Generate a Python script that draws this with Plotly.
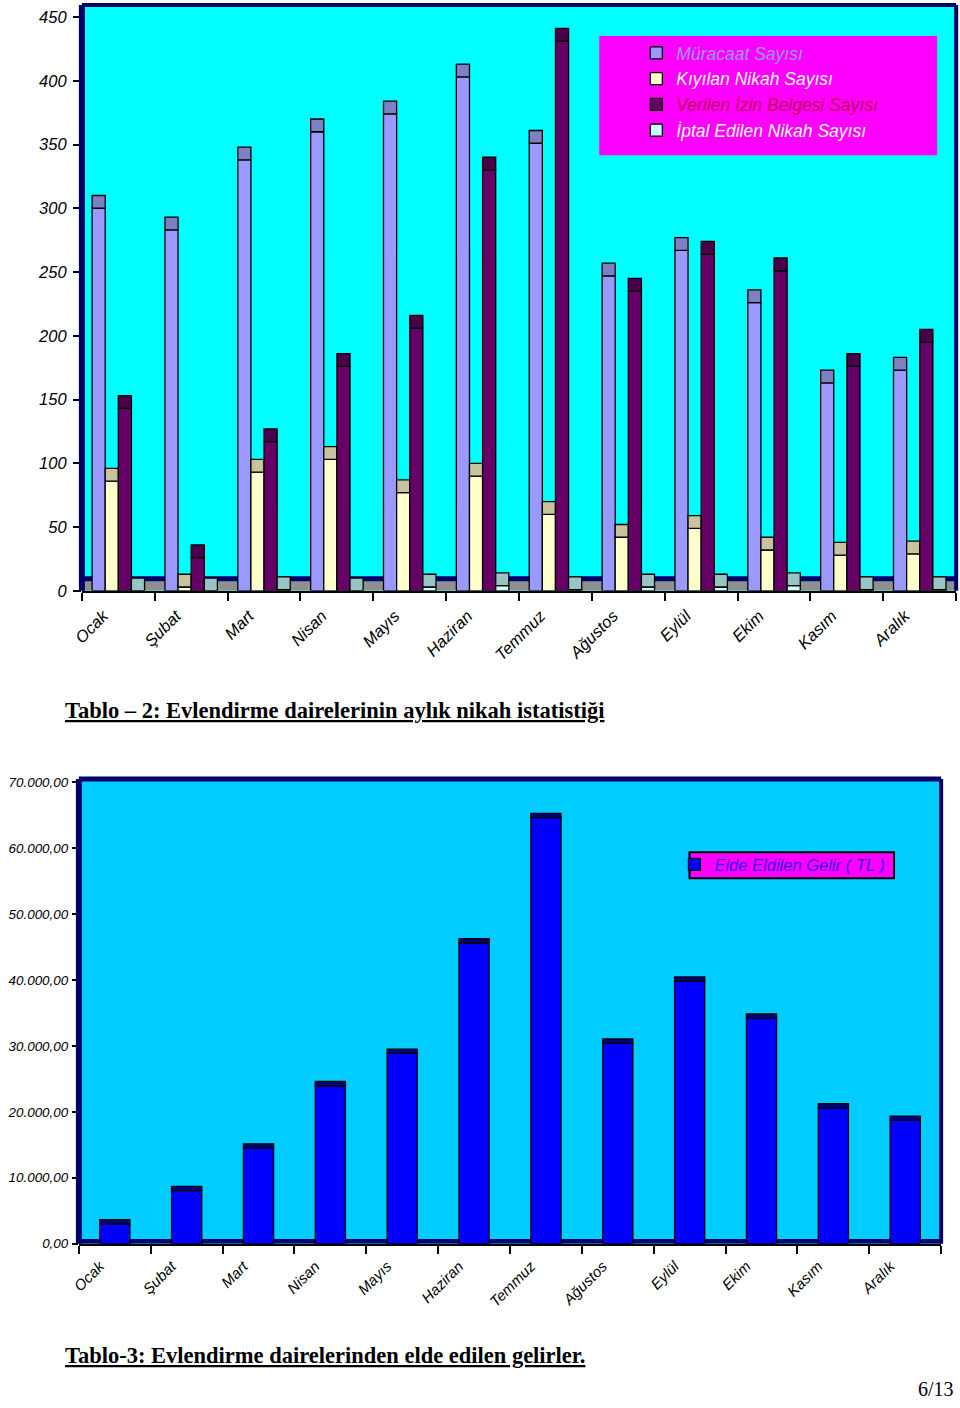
import plotly.graph_objects as go

# ---------------- data ----------------
months = ["Ocak", "Şubat", "Mart", "Nisan", "Mayıs", "Haziran",
          "Temmuz", "Ağustos", "Eylül", "Ekim", "Kasım", "Aralık"]

muracaat = [300, 283, 338, 360, 374, 403, 351, 247, 267, 226, 163, 173]
kiyilan = [86, 3, 93, 103, 77, 90, 60, 42, 49, 32, 28, 29]
verilen = [143, 26, 117, 176, 206, 330, 431, 235, 264, 251, 176, 195]
iptal = [0, 0, 1, 0, 3, 4, 1, 3, 3, 4, 1, 1]

gelir = [3000, 8050, 14500, 23950, 28850, 45600, 64600, 30400, 39800, 34200, 20600, 18700]

top_ticks = [0, 50, 100, 150, 200, 250, 300, 350, 400, 450]
top_grid = [50, 100, 150, 200, 250, 300, 350, 400]
bottom_ticks = [0, 10000, 20000, 30000, 40000, 50000, 60000, 70000]
bottom_grid = [10000, 20000, 30000, 40000, 50000, 60000, 70000]
bottom_ticktext = ["0,00", "10.000,00", "20.000,00", "30.000,00", "40.000,00",
                   "50.000,00", "60.000,00", "70.000,00"]

series_names = ["Müracaat Sayısı", "Kıyılan Nikah Sayısı",
                "Verilen İzin Belgesi Sayısı", "İptal Edilen Nikah Sayısı"]
legend_text_colors = ["#9999FF", "#FFFFFF", "#C0005A", "#FFFFFF"]
face_colors = ["#9999FF", "#FFFFCC", "#660066", "#CCFFFF"]
cap_colors = ["#7F7FC4", "#C8C39E", "#4A004A", "#99C4C4"]
series_values = [muracaat, kiyilan, verilen, iptal]

W, H = 960, 1408
# measured mapping figure px -> photo px (photo = O + S * fig)
SX, OX = 0.987, 11.3
SY, OY = 0.9894, 5.0


def fx(rx):
    return ((rx - OX) / SX) / W


def fy(ry):
    return 1 - ((ry - OY) / SY) / H


FONT = "Arial, 'Liberation Sans', sans-serif"
SERIF = "'Times New Roman', 'Liberation Serif', serif"
NAVY = "#000066"

TOP_CAP = 10
BOT_CAP = 650

fig = go.Figure()

for i, (name, vals) in enumerate(zip(series_names, series_values)):
    fig.add_trace(go.Bar(
        x=months, y=vals, name=f'<span style="color:{legend_text_colors[i]}">{name}</span>',
        marker=dict(color=face_colors[i], line=dict(color="black", width=1.3)),
        offsetgroup=str(i), xaxis="x", yaxis="y", legend="legend",
        hoverinfo="skip",
    ))
    fig.add_trace(go.Bar(
        x=months, y=[TOP_CAP] * len(vals), base=vals,
        marker=dict(color=cap_colors[i], line=dict(color="black", width=1.3)),
        offsetgroup=str(i), xaxis="x", yaxis="y", showlegend=False,
        hoverinfo="skip",
    ))

fig.add_trace(go.Bar(
    x=months, y=gelir, name='<span style="color:#3311EE">Elde Eldilen Gelir ( TL )</span>',
    marker=dict(color="#0000FF", line=dict(color="black", width=1.3)),
    width=0.42, offset=-0.21, xaxis="x2", yaxis="y2", legend="legend2",
    hoverinfo="skip",
))
fig.add_trace(go.Bar(
    x=months, y=[BOT_CAP] * len(gelir), base=gelir,
    marker=dict(color="#000080", line=dict(color="black", width=1.3)),
    width=0.42, offset=-0.21, xaxis="x2", yaxis="y2", showlegend=False,
    hoverinfo="skip",
))

top_x = [fx(83), fx(955)]
top_y = [fy(591), fy(6)]
top_range = [0, 459.4]

bot_x = [fx(80), fx(940)]
bot_y = [fy(1243), fy(779)]
bot_range = [0, 70455]

tickfont_top = dict(family=FONT, size=16.5, color="black", style="italic")
tickfont_bot_x = dict(family=FONT, size=15, color="black", style="italic")
tickfont_bot_y = dict(family=FONT, size=13.4, color="black", style="italic")

fig.update_layout(
    width=W, height=H,
    margin=dict(l=0, r=0, t=0, b=0),
    paper_bgcolor="white",
    plot_bgcolor="#00FFFF",
    barmode="group", bargap=0.28, bargroupgap=0,
    font=dict(family=FONT),
    xaxis=dict(domain=top_x, anchor="y", type="category",
               tickson="boundaries", ticks="outside", ticklen=8, tickwidth=2,
               tickcolor="black", showline=True, linecolor="black", linewidth=2,
               tickangle=-45, tickfont=tickfont_top, showgrid=False,
               ticklabelstandoff=7, ticklabelshift=-15),
    yaxis=dict(domain=top_y, anchor="x", range=top_range, tickvals=top_ticks,
               ticks="outside", ticklen=8, tickcolor="black", tickwidth=1.5,
               tickfont=tickfont_top, showgrid=False, zeroline=False,
               showline=False, ticklabelstandoff=3),
    yaxis3=dict(overlaying="y", anchor="x", range=[top_range[0] - TOP_CAP, top_range[1] - TOP_CAP],
                tickvals=top_grid, showgrid=True, gridcolor="black", gridwidth=2,
                showticklabels=False, ticks="", zeroline=False, showline=False),
    xaxis2=dict(domain=bot_x, anchor="y2", type="category",
                tickson="boundaries", ticks="outside", ticklen=8, tickwidth=2,
                tickcolor="black", showline=True, linecolor="black", linewidth=2,
                tickangle=-45, tickfont=tickfont_bot_x, showgrid=False,
                ticklabelstandoff=6, ticklabelshift=-15),
    yaxis2=dict(domain=bot_y, anchor="x2", range=bot_range, tickvals=bottom_ticks,
                ticktext=bottom_ticktext, ticks="outside", ticklen=6,
                tickcolor="black", tickwidth=1.5, tickfont=tickfont_bot_y,
                showgrid=False, zeroline=False, showline=False, ticklabelstandoff=1),
    yaxis4=dict(overlaying="y2", anchor="x2",
                range=[bot_range[0] - 450, bot_range[1] - 450],
                tickvals=bottom_grid, showgrid=True, gridcolor="#55FFFF", gridwidth=2.5,
                showticklabels=False, ticks="", zeroline=False, showline=False),
    legend=dict(x=fx(636), xanchor="left", y=fy(36), yanchor="top",
                bgcolor="rgba(0,0,0,0)", borderwidth=0,
                font=dict(family=FONT, size=17.5, style="italic"),
                tracegroupgap=0),
    legend2=dict(x=fx(674), xanchor="left", y=fy(847), yanchor="top",
                 bgcolor="rgba(0,0,0,0)", borderwidth=0,
                 font=dict(family=FONT, size=16.5, style="italic")),
)

shapes = []
# bottom chart background (sky blue)
shapes.append(dict(type="rect", xref="x2 domain", yref="y2 domain", x0=0, x1=1, y0=0, y1=1,
                   fillcolor="#00CCFF", line=dict(width=0), layer="below"))
# top chart floor
shapes.append(dict(type="rect", xref="x domain", yref="y", x0=0, x1=1, y0=0, y1=7.5,
                   fillcolor="#8F8F8F", line=dict(width=0), layer="below"))
shapes.append(dict(type="rect", xref="x domain", yref="y", x0=0, x1=1, y0=7.5, y1=11.5,
                   fillcolor=NAVY, line=dict(width=0), layer="below"))
# top chart walls
shapes.append(dict(type="line", xref="x domain", yref="y domain", x0=0, x1=0, y0=0, y1=1,
                   line=dict(color=NAVY, width=6)))
shapes.append(dict(type="line", xref="x domain", yref="y domain", x0=0, x1=1, y0=1, y1=1,
                   line=dict(color=NAVY, width=4)))
shapes.append(dict(type="line", xref="x domain", yref="y domain", x0=1, x1=1, y0=0, y1=1,
                   line=dict(color=NAVY, width=4)))
# top legend box
shapes.append(dict(type="rect", xref="paper", yref="paper", x0=fx(599), x1=fx(936),
                   y0=fy(156), y1=fy(37), fillcolor="#FF00FF",
                   line=dict(width=0), layer="above"))
# bottom chart floor
shapes.append(dict(type="rect", xref="x2 domain", yref="y2", x0=0, x1=1, y0=0, y1=700,
                   fillcolor=NAVY, line=dict(width=0), layer="below"))
# bottom chart walls
shapes.append(dict(type="line", xref="x2 domain", yref="y2 domain", x0=0, x1=0, y0=0, y1=1,
                   line=dict(color=NAVY, width=6)))
shapes.append(dict(type="line", xref="x2 domain", yref="y2 domain", x0=0, x1=1, y0=1, y1=1,
                   line=dict(color=NAVY, width=5)))
shapes.append(dict(type="line", xref="x2 domain", yref="y2 domain", x0=1, x1=1, y0=0, y1=1,
                   line=dict(color=NAVY, width=4)))
# bottom legend box
shapes.append(dict(type="rect", xref="paper", yref="paper", x0=fx(689), x1=fx(893),
                   y0=fy(878), y1=fy(852), fillcolor="#FF00FF",
                   line=dict(color="black", width=2), layer="above"))

fig.update_layout(shapes=shapes)

annotations = [
    dict(text="<b><u>Tablo – 2: Evlendirme dairelerinin aylık nikah istatistiği</u></b>",
         xref="paper", yref="paper", x=fx(64), y=fy(711), xanchor="left", yanchor="middle",
         showarrow=False, font=dict(family=SERIF, size=22.5, color="black")),
    dict(text="<b><u>Tablo-3: Evlendirme dairelerinden elde edilen gelirler.</u></b>",
         xref="paper", yref="paper", x=fx(64), y=fy(1355), xanchor="left", yanchor="middle",
         showarrow=False, font=dict(family=SERIF, size=22.5, color="black")),
    dict(text="6/13", xref="paper", yref="paper", x=fx(955), y=fy(1388),
         xanchor="right", yanchor="middle", showarrow=False,
         font=dict(family=SERIF, size=20, color="black")),
]
fig.update_layout(annotations=annotations)

fig.write_html("out.html", config=dict(displayModeBar=False),
               post_script="document.body.style.margin='0';document.body.style.overflow='hidden';")
